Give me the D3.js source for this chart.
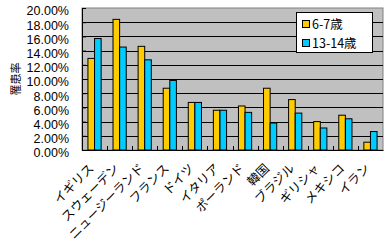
<!DOCTYPE html>
<html><head><meta charset="utf-8">
<script src="https://cdn.jsdelivr.net/npm/d3@7"></script>
<style>body{margin:0;background:#fff}svg{display:block}</style>
</head><body>
<script>
const categories = ["イギリス","スウェーデン","ニュージーランド","フランス","ドイツ","イタリア","ポーランド","韓国","ブラジル","ギリシャ","メキシコ","イラン"];
const seriesNames = ["6-7歳","13-14歳"];
const age6_7 = [12.9,18.4,14.6,8.7,6.7,5.6,6.2,8.7,7.1,4.0,4.9,1.1];
const age13_14 = [15.7,14.5,12.7,9.8,6.7,5.6,5.3,3.8,5.2,3.1,4.4,2.6];
const yTicks = [0,2,4,6,8,10,12,14,16,18,20];
const yTitle = "罹患率";
const colors = ["#FFCC00","#00CCFF"];

const W=388,H=245;
const svg=d3.select("body").append("svg").attr("width",W).attr("height",H);
const L=82,R=383,T=8,B=150;
const x=d3.scaleBand().domain(categories).range([L,R]).padding(0);
const xs=d3.scaleBand().domain([0,1]).range([0,x.bandwidth()]).paddingInner(0).paddingOuter(0.9);
const y=d3.scaleLinear().domain([0,20]).range([B,T]);

svg.append("rect").attr("x",L).attr("y",T).attr("width",R-L).attr("height",B-T).attr("fill","#C0C0C0").attr("stroke","#808080");

// gridlines
svg.append("g").selectAll("line").data(yTicks.filter(d=>d>0&&d<20)).join("line")
  .attr("x1",L).attr("x2",R).attr("y1",d=>Math.round(y(d))+0.5).attr("y2",d=>Math.round(y(d))+0.5)
  .attr("stroke","#000").attr("stroke-width",1);

// bars
const data=[age6_7,age13_14];
data.forEach((vals,si)=>{
  svg.append("g").selectAll("rect").data(vals).join("rect")
    .attr("x",(d,i)=>x(categories[i])+xs(si))
    .attr("width",xs.bandwidth())
    .attr("y",d=>y(d))
    .attr("height",d=>B-y(d))
    .attr("fill",colors[si]).attr("stroke","#000").attr("stroke-width",1);
});

// axes
const yAxis=d3.axisLeft(y).tickValues(yTicks).tickSize(-4).tickPadding(13)
  .tickFormat(d=>d3.format(".2f")(d)+"%");
const ga=svg.append("g").attr("transform",`translate(${L},0)`).call(yAxis);
ga.select(".domain").attr("stroke","#000");
ga.selectAll(".tick line").attr("stroke","#000");
ga.selectAll("text").attr("font-family","Liberation Sans, Arial, sans-serif").attr("font-size","12.5px").attr("fill","#000").attr("dy","0.55em");

const xAxis=d3.axisBottom(x).tickSize(0).tickFormat("");
const gx=svg.append("g").attr("transform",`translate(0,${B})`).call(xAxis);
gx.select(".domain").attr("stroke","#000");
// category boundary ticks (inside)
svg.append("g").selectAll("line").data(categories.slice(1)).join("line")
  .attr("x1",d=>Math.round(x(d))+0.5).attr("x2",d=>Math.round(x(d))+0.5)
  .attr("y1",B-4).attr("y2",B).attr("stroke","#000");

// x labels
svg.append("g").selectAll("text").data(categories).join("text")
  .attr("transform",d=>`translate(${x(d)+x.bandwidth()/2-3},${B+16}) rotate(-45)`)
  .attr("text-anchor","end").attr("dy","0.35em")
  .attr("font-family","Noto Sans CJK JP").attr("font-size","12.5px").attr("fill","#000")
  .text(d=>d);

// y title
svg.append("text").attr("transform",`translate(16,79) rotate(-90)`)
  .attr("text-anchor","middle").attr("dy","0.35em")
  .attr("font-family","Noto Sans CJK JP").attr("font-size","11px").text(yTitle);

// legend
const lg=svg.append("g");
lg.append("rect").attr("x",296.5).attr("y",12.5).attr("width",76).attr("height",40).attr("fill","#fff").attr("stroke","#000");
seriesNames.forEach((s,i)=>{
  const cy=[24,43][i];
  lg.append("rect").attr("x",302.5).attr("y",cy-3.5).attr("width",7).attr("height",7).attr("fill",colors[i]).attr("stroke","#000");
  lg.append("text").attr("x",312).attr("y",cy).attr("dy","0.36em")
    .attr("font-family","Noto Sans CJK JP").attr("font-size","12.5px").text(s);
});
</script>
</body></html>
